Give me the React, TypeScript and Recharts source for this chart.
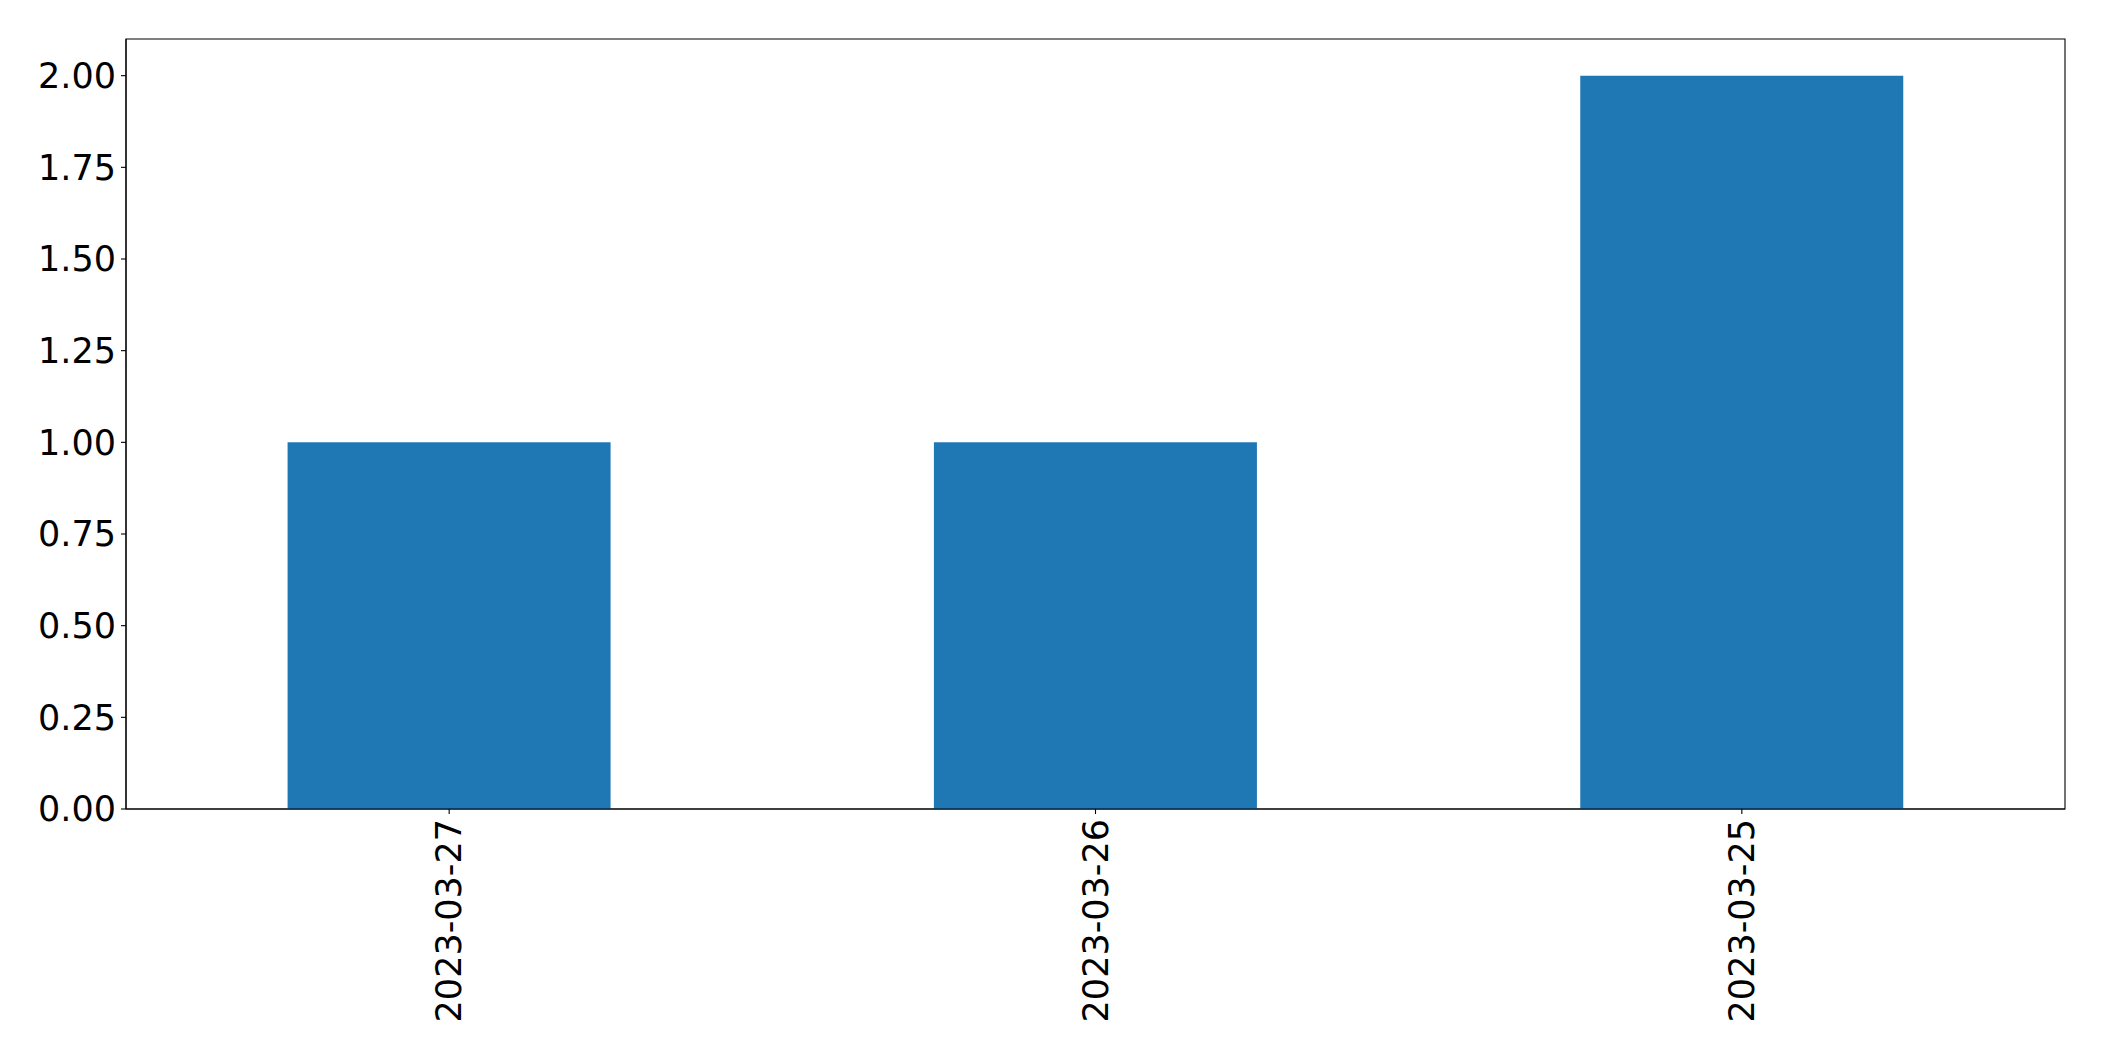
import React from 'react';
import { BarChart, Bar, XAxis, YAxis, ReferenceArea } from 'recharts';

const dates = ['2023-03-27', '2023-03-26', '2023-03-25'];
const counts = [1, 1, 2];
const yTicks = [0, 0.25, 0.5, 0.75, 1.0, 1.25, 1.5, 1.75, 2.0];

const data = dates.map((date, i) => ({ date, count: counts[i] }));

const FONT = 'DejaVu Sans, sans-serif';
const FONT_SIZE = 35;

// rotated date label, hangs below the tick
const DateTick = (props: any) => {
  const { x, y, payload } = props;
  return (
    <text
      x={0}
      y={0}
      transform={`translate(${x},${y}) rotate(-90)`}
      textAnchor="end"
      dominantBaseline="central"
      fontSize={FONT_SIZE}
      fontFamily={FONT}
      fill="#000"
    >
      {payload.value}
    </text>
  );
};

const App: React.FC = () => {
  return (
    <div style={{ position: 'absolute', left: 0, top: 0, width: 2104, height: 1061, background: '#fff' }}>
      <BarChart
        width={2104}
        height={1061}
        data={data}
        margin={{ top: 39, right: 39, left: 16, bottom: 12 }}
        barCategoryGap="25%"
      >
        <XAxis
          dataKey="date"
          height={240}
          tick={<DateTick />}
          tickSize={5}
          tickMargin={5}
          interval={0}
          axisLine={{ stroke: '#000', strokeWidth: 1.1 }}
          tickLine={{ stroke: '#000', strokeWidth: 1.1 }}
        />
        <YAxis
          width={110}
          domain={[0, 2.1]}
          ticks={yTicks}
          interval={0}
          tickFormatter={(v: number) => v.toFixed(2)}
          tickSize={5}
          tickMargin={5}
          tick={{ fontSize: FONT_SIZE, fontFamily: FONT, fill: '#000' }}
          axisLine={{ stroke: '#000', strokeWidth: 1.1 }}
          tickLine={{ stroke: '#000', strokeWidth: 1.1 }}
        />
        <Bar dataKey="count" fill="#1f77b4" isAnimationActive={false} />
        <ReferenceArea y1={0} y2={2.1} fill="none" fillOpacity={0} stroke="#000" strokeWidth={1.1} strokeOpacity={1} ifOverflow="visible" />
      </BarChart>
    </div>
  );
};

export default App;
